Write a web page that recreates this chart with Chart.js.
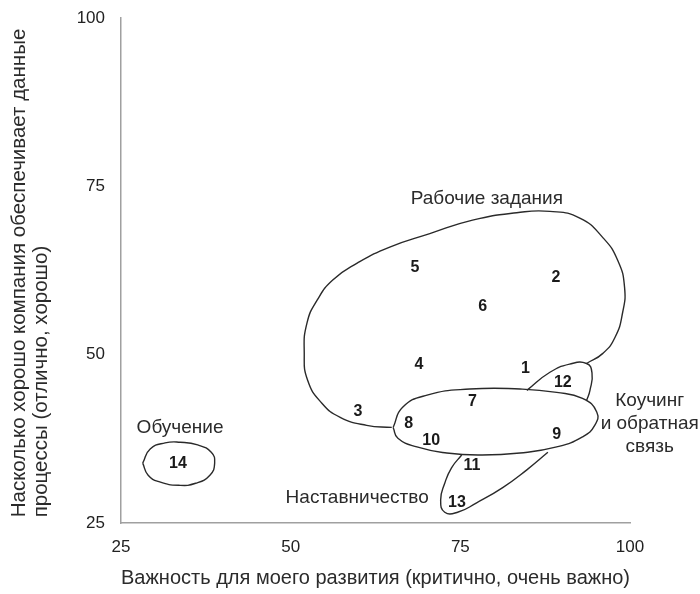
<!DOCTYPE html>
<html lang="ru">
<head>
<meta charset="utf-8">
<title>Способы развития</title>
<script src="https://cdn.jsdelivr.net/npm/chart.js@4.4.1/dist/chart.umd.min.js"></script>
<style>
  html, body { margin: 0; padding: 0; background: #fff; }
  #wrap { width: 700px; height: 594px; }
</style>
</head>
<body>
<div id="wrap"><canvas id="chart" width="700" height="594"></canvas></div>
<script>
// номера способов развития: важность (x) и насколько хорошо обеспечивает компания (y)
const pointIds = ['1', '2', '3', '4', '5', '6', '7', '8', '9', '10', '11', '12', '13', '14'];
const pointX = [84.6, 89.1, 59.9, 68.9, 68.3, 78.3, 76.8, 67.4, 89.2, 70.7, 76.7, 90.1, 74.5, 33.4];
const pointY = [48.0, 61.4, 41.5, 48.6, 63.0, 57.2, 43.0, 39.7, 38.1, 37.3, 33.5, 45.9, 28.0, 33.9];

// подписи групп
const groupNames = ['Рабочие задания', 'Обучение', 'Наставничество', 'Коучинг\nи обратная\nсвязь'];
const groupX = [78.9, 33.7, 59.8, 102.9];
const groupY = [73.2, 39.2, 28.7, 39.8];

// контуры групп
const workX = [64.9, 61.2, 57.3, 54.6, 52.5, 52.0, 52.4, 53.9, 56.2, 59.8, 64.6, 70.5, 76.8, 83.3, 88.2, 92.6, 96.0, 98.2, 99.2, 98.9, 97.8, 96.0, 93.6];
const workY = [39.2, 39.5, 40.7, 42.8, 46.2, 50.3, 54.7, 58.1, 61.1, 63.6, 66.0, 68.0, 70.0, 71.1, 71.3, 70.3, 67.4, 64.0, 60.0, 56.2, 52.6, 50.2, 48.7];

const coachX = [65.1, 66.5, 70.1, 76.4, 83.8, 89.2, 93.0, 95.1, 94.8, 93.0, 89.2, 83.8, 77.9, 73.0, 68.6, 65.8, 65.1];
const coachY = [39.2, 42.2, 44.0, 44.9, 44.9, 44.4, 43.5, 41.5, 39.5, 37.8, 36.3, 35.4, 35.1, 35.4, 36.3, 37.6, 39.2];

const loopX = [84.8, 88.2, 91.1, 93.6, 94.4, 94.1, 93.6];
const loopY = [44.7, 47.4, 48.6, 48.7, 47.3, 44.7, 43.2];

const mentorX = [75.2, 73.7, 72.7, 72.1, 72.7, 74.6, 77.4, 81.3, 84.8, 87.9];
const mentorY = [35.1, 33.2, 30.9, 28.4, 26.6, 26.6, 28.0, 30.3, 32.9, 35.5];

const studyX = [28.2, 29.3, 31.5, 33.7, 36.3, 38.3, 38.8, 38.1, 36.0, 33.5, 30.7, 29.0, 28.2];
const studyY = [33.9, 36.0, 36.9, 37.0, 36.6, 35.5, 33.9, 32.1, 30.9, 30.6, 31.1, 32.1, 33.9];

const xTitle = 'Важность для моего развития (критично, очень важно)';
const yTitle = [' Насколько хорошо компания обеспечивает данные', ' процессы (отлично, хорошо)'];

const toPoints = (xs, ys) => xs.map((x, i) => ({ x: x, y: ys[i] }));

function outline(xs, ys) {
    return {
        data: toPoints(xs, ys),
        showLine: true,
        borderColor: '#2a2a2a',
        borderWidth: 1.4,
        pointRadius: 0,
        tension: 0.5,
        fill: false
    };
}

const labelPlugin = {
    id: 'labels',
    afterDatasetsDraw(chart) {
        const { ctx, scales: { x, y } } = chart;
        ctx.save();
        ctx.textAlign = 'center';
        ctx.textBaseline = 'middle';
        ctx.fillStyle = '#1a1a1a';
        ctx.font = 'bold 16px "Liberation Sans", Arial, sans-serif';
        pointIds.forEach((id, i) => {
            ctx.fillText(id, x.getPixelForValue(pointX[i]), y.getPixelForValue(pointY[i]));
        });
        ctx.fillStyle = '#2b2b2b';
        ctx.font = '19px "Liberation Sans", Arial, sans-serif';
        groupNames.forEach((name, i) => {
            const lines = name.split('\n');
            const cx = x.getPixelForValue(groupX[i]);
            const cy = y.getPixelForValue(groupY[i]);
            lines.forEach((line, j) => {
                ctx.fillText(line, cx, cy + (j - (lines.length - 1) / 2) * 23);
            });
        });
        ctx.restore();
    }
};

Chart.defaults.font.family = '"Liberation Sans", Arial, sans-serif';
Chart.defaults.color = '#2b2b2b';

new Chart(document.getElementById('chart'), {
    type: 'scatter',
    data: {
        datasets: [
            { data: toPoints(pointX, pointY), pointRadius: 0 },
            outline(workX, workY),
            outline(coachX, coachY),
            outline(loopX, loopY),
            outline(mentorX, mentorY),
            outline(studyX, studyY)
        ]
    },
    options: {
        responsive: false,
        devicePixelRatio: 1,
        animation: false,
        layout: { padding: { top: 9, right: 70, bottom: 0, left: 0 } },
        plugins: { legend: { display: false }, tooltip: { enabled: false } },
        scales: {
            x: {
                type: 'linear', min: 25, max: 100,
                ticks: { stepSize: 25, padding: 6, color: '#222', font: { size: 17 } },
                grid: { display: false },
                border: { color: '#a0a0a0', width: 1.5 },
                title: { display: true, text: xTitle, color: '#2b2b2b', font: { size: 20.5 }, padding: { top: 0, bottom: 3 } },
                afterFit(s) { s.height = 71; }
            },
            y: {
                type: 'linear', min: 25, max: 100,
                ticks: { stepSize: 25, padding: 8, color: '#222', font: { size: 17 } },
                grid: { display: false },
                border: { color: '#a0a0a0', width: 1.5 },
                title: { display: true, text: yTitle, align: 'start', color: '#2b2b2b', font: { size: 20.5, lineHeight: 1.08 }, padding: { top: 8, bottom: 0 } },
                afterFit(s) { s.width = 121; }
            }
        }
    },
    plugins: [labelPlugin]
});
</script>
</body>
</html>
